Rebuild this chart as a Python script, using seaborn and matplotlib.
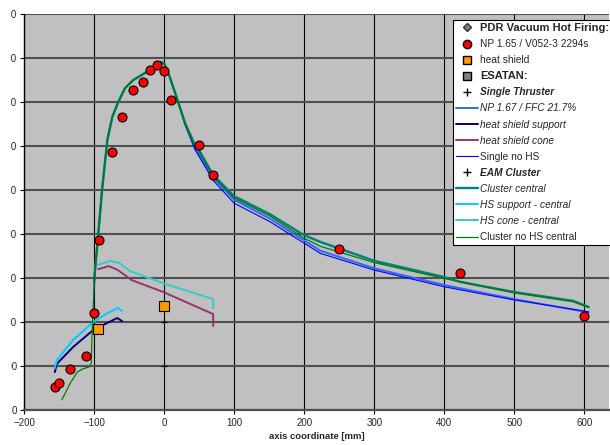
import numpy as np
import pandas as pd
import matplotlib
matplotlib.use("Agg")
import matplotlib.pyplot as plt
import seaborn as sns
from matplotlib.lines import Line2D
from matplotlib.transforms import Bbox, TransformedBbox

# ---- data ----
# PDR vacuum hot firing test data
np165_x = [-156, -150, -134, -111, -100, -93, -74, -60, -44, -30, -20, -10, 0, 10, 50, 70, 250, 423, 600]
np165_y = [52, 61, 93, 123, 220, 386, 587, 666, 727, 746, 772, 784, 771, 705, 602, 534, 365, 311, 214]
hs_x = [-94, 0]
hs_y = [184, 236]

# ESATAN header markers (+)
single_x = [0]
single_y = [200]
eam_x = [0]
eam_y = [100]

# ESATAN single thruster
np167_x = [-100, -98.6, -94, -88.6, -81, -74, -66, -56, -44, -24, -10, -5, 0, 8, 19, 30, 44, 70, 100, 151, 199, 223, 300, 400, 500, 584, 606]
np167_y = [300, 318, 400, 500, 614, 666, 698, 731, 750, 769, 786, 791, 788, 757, 705, 650, 596, 528, 478, 435, 386, 362, 322, 284, 252, 228, 222]

hss_x = [-156, -153, -130, -101, -81, -67, -60]
hss_y = [86, 105, 143, 182, 198, 209, 202]

hsc_x = [-94, -79, -66, -46, -1, 70, 70]
hsc_y = [320, 327, 318, 295, 268, 218, 191]

single_nohs_x = [-100, -98.6, -94, -88.6, -81, -74, -66, -56, -44, -24, -10, -5, 0, 8, 19, 30, 44, 70, 100, 151, 199, 223, 300, 400, 500, 584, 606]
single_nohs_y = [250, 318, 400, 500, 614, 666, 698, 731, 750, 769, 786, 791, 788, 757, 705, 648, 592, 522, 470, 428, 380, 356, 318, 280, 250, 229, 223]

# ESATAN EAM cluster
cc_x = [-100, -98.6, -94, -88.6, -81, -74, -66, -56, -44, -24, -10, -5, 0, 8, 19, 30, 44, 50, 70, 100, 151, 199, 223, 300, 400, 423, 500, 584, 606]
cc_y = [290, 318, 400, 500, 614, 666, 698, 731, 750, 769, 786, 791, 788, 757, 705, 652, 602, 590, 534, 486, 445, 398, 382, 339, 302, 291, 268, 248, 234]

hssc_x = [-156, -153, -130, -101, -81, -66, -60]
hssc_y = [95, 114, 159, 200, 220, 232, 225]

hscc_x = [-94, -77, -64, -49, -1, 70, 70]
hscc_y = [330, 339, 334, 316, 288, 252, 232]

cnohs_x = [-146, -134, -124, -117, -107, -104, -103, -101, -100, -98.6, -94, -88.6, -81, -74, -66, -56, -44, -24, -10, -5, 0, 8, 19, 30, 44, 50, 70, 100, 151, 199, 223, 300, 400, 500, 584, 606]
cnohs_y = [23, 61, 86, 93, 98, 107, 166, 243, 290, 318, 400, 500, 614, 666, 698, 731, 750, 769, 786, 791, 788, 757, 705, 650, 600, 588, 531, 482, 441, 391, 372, 335, 299, 266, 246, 233]

x_ticks = [-200, -100, 0, 100, 200, 300, 400, 500, 600]
y_ticks = [0, 100, 200, 300, 400, 500, 600, 700, 800, 900]

FONT = ["Liberation Sans", "DejaVu Sans"]

sns.set_style("white")
plt.rcParams["font.family"] = FONT

W, H = 610, 445
fig = plt.figure(figsize=(W / 100, H / 100), dpi=100)
ax = fig.add_axes([24 / W, 1 - 410 / H, (609 - 24) / W, (410 - 14) / H])
ax.set_facecolor("#C0C0C0")

series = [
    (np167_x, np167_y, "#3366FF", 1.4),
    (hss_x, hss_y, "#000080", 1.4),
    (hsc_x, hsc_y, "#993366", 1.4),
    (single_nohs_x, single_nohs_y, "#0000FF", 0.8),
    (cc_x, cc_y, "#008080", 1.7),
    (hssc_x, hssc_y, "#00CCFF", 1.4),
    (hscc_x, hscc_y, "#33CCCC", 1.4),
    (cnohs_x, cnohs_y, "#008000", 0.9),
]
for xs, ys, c, lw in series:
    df = pd.DataFrame({"x": xs, "y": ys})
    sns.lineplot(data=df, x="x", y="y", ax=ax, color=c, linewidth=lw,
                 sort=False, estimator=None, zorder=3)

sns.scatterplot(x=np165_x, y=np165_y, ax=ax, color="#FF0000", edgecolor="black",
                s=42, linewidth=0.8, marker="o", zorder=5)
sns.scatterplot(x=hs_x, y=hs_y, ax=ax, color="#FF9900", edgecolor="black",
                s=46, linewidth=0.8, marker="s", zorder=5)
sns.scatterplot(x=single_x + eam_x, y=single_y + eam_y, ax=ax, color="black",
                s=25, linewidth=0.8, marker="+", zorder=5)

ax.set_xlim(-200, 635)
ax.set_ylim(0, 900)
ax.set_xticks(x_ticks)
ax.set_yticks(y_ticks)
ax.yaxis.grid(True, color="#505050", linewidth=1.5, zorder=1)
ax.xaxis.grid(True, color="black", linewidth=0.8, zorder=1)
ax.set_axisbelow(True)
for s in ["top", "right"]:
    ax.spines[s].set_visible(False)
ax.spines["left"].set_color("black")
ax.spines["left"].set_linewidth(1.0)
ax.spines["bottom"].set_color("#505050")
ax.spines["bottom"].set_linewidth(1.6)
ax.tick_params(axis="both", direction="out", length=3, width=0.8, color="black",
               labelsize=7, pad=3, left=True, bottom=True)
ax.tick_params(axis="y", pad=2)
ax.set_ylabel("")
ax.set_xlabel("axis coordinate [mm]", fontsize=6.8, fontweight="bold")
ax.xaxis.set_label_coords(0.5, -0.055)

# legend
handles = [
    Line2D([], [], ls="none", marker="D", ms=4, mfc="#808080", mec="#333333"),
    Line2D([], [], ls="none", marker="o", ms=6, mfc="#FF0000", mec="black"),
    Line2D([], [], ls="none", marker="s", ms=6, mfc="#FF9900", mec="black"),
    Line2D([], [], ls="none", marker="s", ms=6, mfc="#808080", mec="black"),
    Line2D([], [], ls="none", marker="+", ms=6, color="black"),
    Line2D([], [], color="#3366FF", lw=1.4),
    Line2D([], [], color="#000080", lw=1.4),
    Line2D([], [], color="#993366", lw=1.4),
    Line2D([], [], color="#0000FF", lw=0.8),
    Line2D([], [], ls="none", marker="+", ms=6, color="black"),
    Line2D([], [], color="#008080", lw=1.7),
    Line2D([], [], color="#00CCFF", lw=1.4),
    Line2D([], [], color="#33CCCC", lw=1.4),
    Line2D([], [], color="#008000", lw=0.9),
]
labels = ["PDR Vacuum Hot Firing:", "NP 1.65 / V052-3 2294s", "heat shield", "ESATAN:",
          "Single Thruster", "NP 1.67 / FFC 21.7%", "heat shield support", "heat shield cone",
          "Single no HS", "EAM Cluster", "Cluster central", "HS support - central",
          "HS cone - central", "Cluster no HS central"]
styles = ["B", "n", "n", "B", "bi", "i", "i", "i", "n", "bi", "i", "i", "i", "n"]

leg = ax.legend(handles, labels, loc="upper left",
                bbox_to_anchor=(453 / W, 1 - 20 / H), bbox_transform=fig.transFigure,
                fontsize=7.3, frameon=True, fancybox=False, framealpha=1,
                edgecolor="black", borderpad=0.3, labelspacing=0.6,
                handlelength=2.2, handletextpad=0.2, borderaxespad=0)
leg.get_frame().set_linewidth(0.8)
for txt, st in zip(leg.get_texts(), styles):
    if st == "B":
        txt.set_fontweight("bold")
        txt.set_fontsize(8)
    if "b" in st:
        txt.set_fontweight("bold")
    if "i" in st:
        txt.set_fontstyle("italic")

# y tick labels are cut off at the left edge in the reference
fig.canvas.draw()
clip = TransformedBbox(Bbox.from_extents(11 / W, 0, 1, 1), fig.transFigure)
for t in ax.yaxis.get_major_ticks():
    t.label1.set_clip_on(True)
    t.label1.set_clip_box(clip)

fig.savefig("out.png", dpi=100)
